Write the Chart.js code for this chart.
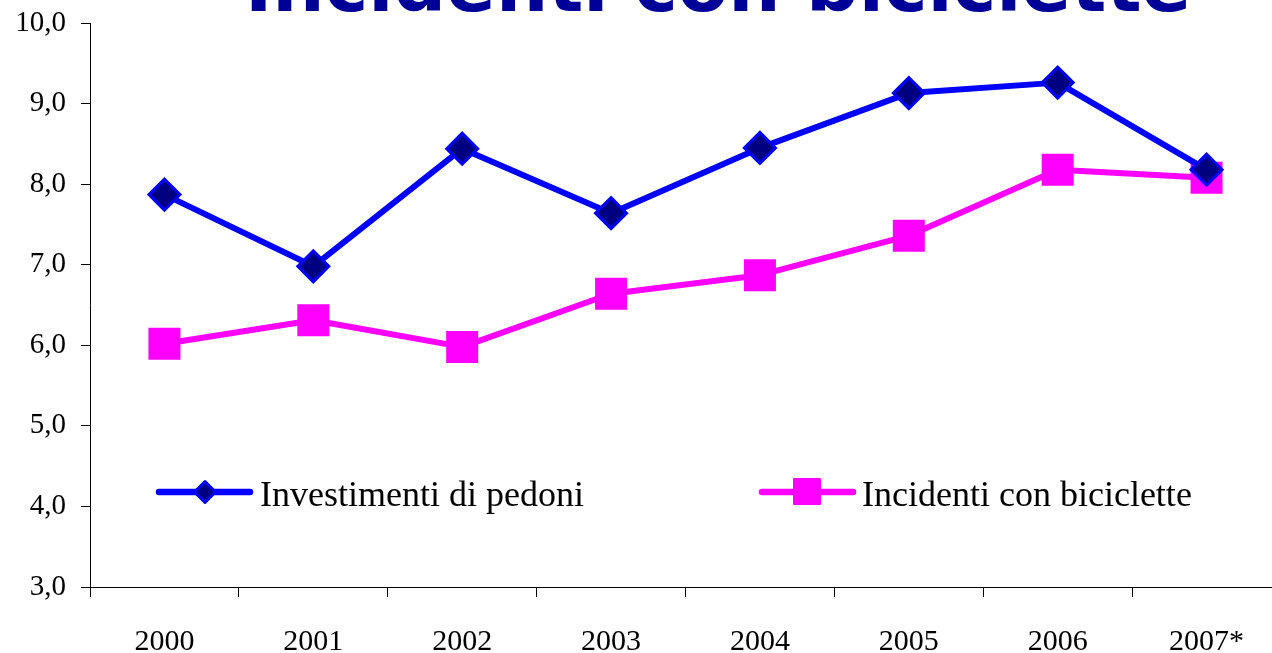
<!DOCTYPE html>
<html>
<head>
<meta charset="utf-8">
<script src="https://cdn.jsdelivr.net/npm/chart.js@4/dist/chart.umd.min.js"></script>
<style>
  html, body { margin: 0; padding: 0; background: #fff; overflow: hidden; }
  #wrap { position: relative; width: 1272px; height: 653px; overflow: hidden; }
  #title { position: absolute; left: 245px; top: -51px; font-family: "DejaVu Sans", sans-serif; font-weight: bold;
           font-size: 73.5px; line-height: 74px; color: #000099; white-space: nowrap; z-index: 2; }
  canvas { position: absolute; left: 0; top: 0; }
</style>
</head>
<body>
<div id="wrap">
  <div id="title">Incidenti con biciclette</div>
  <canvas id="c" width="1300" height="653"></canvas>
</div>
<script>
const categories = ['2000', '2001', '2002', '2003', '2004', '2005', '2006', '2007*'];
const pedoni = [7.87, 6.98, 8.44, 7.64, 8.45, 9.13, 9.26, 8.18];
const biciclette = [6.02, 6.31, 5.98, 6.64, 6.87, 7.36, 8.18, 8.08];
const seriesNames = ['Investimenti di pedoni', 'Incidenti con biciclette'];
const yMin = 3, yMax = 10, yStep = 1;

const legendPlugin = {
  id: 'innerLegend',
  afterDatasetsDraw(chart) {
    const ctx = chart.ctx;
    const ds = chart.data.datasets;
    const y = 492;
    ctx.save();
    ctx.lineCap = 'round';
    ctx.lineWidth = 6.5;
    ctx.strokeStyle = ds[0].borderColor;
    ctx.beginPath(); ctx.moveTo(159, y); ctx.lineTo(250, y); ctx.stroke();
    ctx.beginPath();
    const d = 10.5;
    ctx.moveTo(205, y - d); ctx.lineTo(205 + d, y); ctx.lineTo(205, y + d); ctx.lineTo(205 - d, y); ctx.closePath();
    ctx.fillStyle = ds[0].pointBackgroundColor; ctx.fill();
    ctx.lineWidth = 3; ctx.lineJoin = 'round'; ctx.strokeStyle = ds[0].pointBorderColor; ctx.stroke();
    ctx.lineWidth = 6.5;
    ctx.strokeStyle = ds[1].borderColor;
    ctx.beginPath(); ctx.moveTo(762, y); ctx.lineTo(853, y); ctx.stroke();
    ctx.fillStyle = ds[1].pointBackgroundColor;
    ctx.lineWidth = 2; ctx.strokeStyle = ds[1].pointBorderColor;
    ctx.beginPath(); ctx.rect(794, 479, 26, 25); ctx.fill(); ctx.stroke();
    ctx.fillStyle = '#000';
    ctx.font = '36px "Liberation Serif", serif';
    ctx.textBaseline = 'alphabetic';
    ctx.textAlign = 'left';
    ctx.fillText(ds[0].label, 260, 506);
    ctx.fillText(ds[1].label, 862, 506);
    ctx.restore();
  }
};

new Chart(document.getElementById('c'), {
  type: 'line',
  data: {
    labels: categories,
    datasets: [
      {
        label: seriesNames[0],
        data: pedoni,
        borderColor: '#0000FF',
        borderWidth: 6,
        borderJoinStyle: 'round',
        tension: 0,
        pointStyle: 'rectRot',
        pointRadius: 15.5,
        pointHoverRadius: 15.5,
        pointBackgroundColor: '#000080',
        pointBorderColor: '#0000FF',
        pointBorderWidth: 3
      },
      {
        label: seriesNames[1],
        data: biciclette,
        borderColor: '#FF00FF',
        borderWidth: 6,
        borderJoinStyle: 'round',
        tension: 0,
        pointStyle: 'rect',
        pointRadius: 21.2,
        pointHoverRadius: 21.2,
        pointBackgroundColor: '#FF00FF',
        pointBorderColor: '#FF00FF',
        pointBorderWidth: 2
      }
    ]
  },
  options: {
    responsive: false,
    animation: false,
    devicePixelRatio: 1,
    layout: { autoPadding: false, padding: { top: 23, right: 19, left: 0, bottom: 0 } },
    plugins: { legend: { display: false }, tooltip: { enabled: false }, title: { display: false } },
    scales: {
      x: {
        offset: true,
        grid: { offset: true, drawOnChartArea: false, drawTicks: true, tickLength: 10, color: '#000', lineWidth: 1 },
        border: { display: true, color: '#000', width: 1 },
        ticks: { color: '#000', padding: 27, font: { family: '"Liberation Serif", serif', size: 30 }, maxRotation: 0, autoSkip: false },
        afterFit(scale) { scale.height = 66; }
      },
      y: {
        min: yMin, max: yMax,
        grid: { drawOnChartArea: false, drawTicks: true, tickLength: 9, color: '#000', lineWidth: 1 },
        border: { display: true, color: '#000', width: 1 },
        ticks: {
          stepSize: yStep, color: '#000', padding: 15,
          font: { family: '"Liberation Serif", serif', size: 29 },
          callback: v => v.toFixed(1).replace('.', ',')
        },
        afterFit(scale) { scale.width = 90; scale.paddingTop = 0; scale.paddingBottom = 0; }
      }
    }
  },
  plugins: [legendPlugin]
});
</script>
</body>
</html>
